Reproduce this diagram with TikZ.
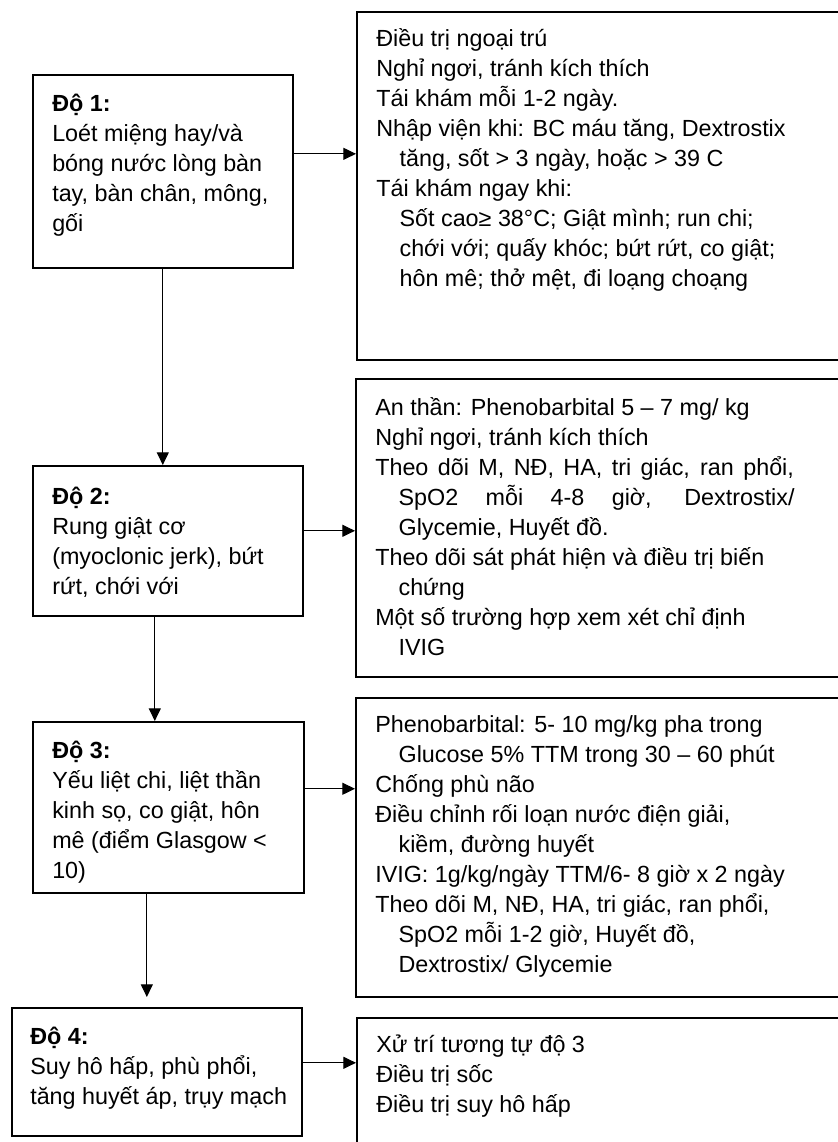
\documentclass[tikz,border=0pt]{standalone}
\usepackage{fontspec}
\setmainfont{Liberation Sans}
\usetikzlibrary{arrows.meta}
\tikzstyle{grade} = [draw=black, line width=1.2pt, rectangle, anchor=north west, inner sep=0pt]
\tikzstyle{care} = [draw=black, line width=1.2pt, rectangle, anchor=north west, inner sep=0pt, minimum width=367.5pt]
\tikzstyle{notes} = [anchor=north west, inner sep=0pt, align=left, font=\fontsize{17.5pt}{22.5pt}\selectfont]
\tikzstyle{arrow} = [line width=0.8pt,-{Triangle[length=9.5pt,width=9pt]}]
\newcommand{\contline}{\hspace*{1em}}
\begin{document}
\begin{tikzpicture}[x=0.75pt, y=-0.75pt]

\useasboundingbox (0,0) rectangle (838,1142);
\clip (0,0) rectangle (838,1142);

\node(grade1)   [grade, minimum width=195pt, minimum height=144.75pt]   at (32,74)   {};
\node(grade2)   [grade, minimum width=202.5pt, minimum height=112.5pt]  at (32,465)  {};
\node(grade3)   [grade, minimum width=203.25pt, minimum height=128.25pt] at (32,721) {};
\node(grade4)   [grade, minimum width=217.5pt, minimum height=96pt]     at (11,1007) {};
\node(care1)    [care, minimum height=261pt]     at (356,11)   {};
\node(care2)    [care, minimum height=223.5pt]   at (355,378)  {};
\node(care3)    [care, minimum height=224.25pt]  at (355,697)  {};
\node(care4)    [care, minimum height=112.5pt]   at (356,1017) {};

\node(grade1txt) [notes] at ([shift={(20,20)}]grade1.north west) {\textbf{Độ 1:}\\Loét miệng hay/và\\bóng nước lòng bàn\\tay, bàn chân, mông,\\gối};
\node(grade2txt) [notes] at ([shift={(20,22)}]grade2.north west) {\textbf{Độ 2:}\\Rung giật cơ\\(myoclonic jerk), bứt\\rứt, chới với};
\node(grade3txt) [notes] at ([shift={(20,20)}]grade3.north west) {\textbf{Độ 3:}\\Yếu liệt chi, liệt thần\\kinh sọ, co giật, hôn\\mê (điểm Glasgow <\\10)};
\node(grade4txt) [notes] at ([shift={(19,20)}]grade4.north west) {\textbf{Độ 4:}\\Suy hô hấp, phù phổi,\\tăng huyết áp, trụy mạch};

\node(care1txt) [notes] at ([shift={(20,17)}]care1.north west) {Điều trị ngoại trú\\Nghỉ ngơi, tránh kích thích\\Tái khám mỗi 1-2 ngày.\\Nhập viện khi: BC máu tăng, Dextrostix\\\contline tăng, sốt > 3 ngày, hoặc > 39 C\\Tái khám ngay khi:\\\contline Sốt cao≥ 38°C; Giật mình; run chi;\\\contline chới với; quấy khóc; bứt rứt, co giật;\\\contline hôn mê; thở mệt, đi loạng choạng};
\node(care2txt) [notes] at ([shift={(20,19)}]care2.north west) {An thần: Phenobarbital 5 – 7 mg/ kg\\Nghỉ ngơi, tránh kích thích\\\makebox[314pt][s]{Theo dõi M, NĐ, HA, tri giác, ran phổi,}\\\contline\makebox[297pt][s]{SpO2 mỗi 4-8 giờ, Dextrostix/}\\\contline Glycemie, Huyết đồ.\\Theo dõi sát phát hiện và điều trị biến\\\contline chứng\\Một số trường hợp xem xét chỉ định\\\contline IVIG};
\node(care3txt) [notes] at ([shift={(20,18)}]care3.north west) {Phenobarbital: 5- 10 mg/kg pha trong\\\contline Glucose 5\% TTM trong 30 – 60 phút\\Chống phù não\\Điều chỉnh rối loạn nước điện giải,\\\contline kiềm, đường huyết\\IVIG: 1g/kg/ngày TTM/6- 8 giờ x 2 ngày\\Theo dõi M, NĐ, HA, tri giác, ran phổi,\\\contline SpO2 mỗi 1-2 giờ, Huyết đồ,\\\contline Dextrostix/ Glycemie};
\node(care4txt) [notes] at ([shift={(20,18)}]care4.north west) {Xử trí tương tự độ 3\\Điều trị sốc\\Điều trị suy hô hấp};

\coordinate (out1) at ([yshift=13.1pt]grade1.east);
\coordinate (out2) at ([yshift=7.5pt]grade2.east);
\coordinate (out3) at ([yshift=13.9pt]grade3.east);
\coordinate (out4) at ([yshift=6.75pt]grade4.east);
\coordinate (down2) at ([xshift=-9.75pt]grade2.south);
\coordinate (down3) at ([xshift=-16.1pt]grade3.south);

\draw [arrow] (out1) -- (out1 -| care1.west);
\draw [arrow] (out2) -- (out2 -| care2.west);
\draw [arrow] (out3) -- (out3 -| care3.west);
\draw [arrow] (out4) -- (out4 -| care4.west);
\draw [arrow] (grade1.south) -- (grade1.south |- grade2.north);
\draw [arrow] (down2) -- (down2 |- grade3.north);
\draw [arrow, shorten >=7.5pt] (down3) -- (down3 |- grade4.north);

\end{tikzpicture}
\end{document}
